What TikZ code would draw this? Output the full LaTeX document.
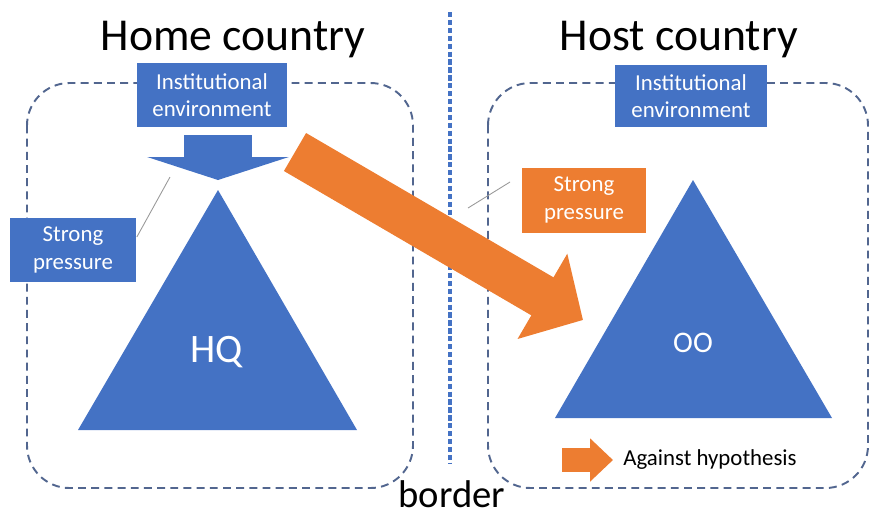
\documentclass[tikz,border=0pt]{standalone}
\usepackage{fontspec}
\setmainfont{Carlito}
\usetikzlibrary{arrows.meta,positioning}
\definecolor{boxblue}{HTML}{4472C4}
\definecolor{boxorange}{HTML}{ED7D31}
\definecolor{linegray}{HTML}{52668F}

\begin{document}
\begin{tikzpicture}[x=0.02cm,y=-0.02cm,
		title/.style={font=\fontsize{26}{30}\selectfont},
		envbox/.style={fill=boxblue,text=white,align=center,inner sep=0pt,
			font=\fontsize{13}{15.5}\selectfont},
		country/.style={draw=linegray,line width=1.1pt,dash pattern=on 4.5pt off 3pt,rounded corners=0.85cm},
		thin/.style={draw=gray!80,line width=0.5pt}]
				\useasboundingbox (0,0) rectangle (872,515);

				% the two countries and the border
				\draw[country] (27,83) rectangle (413,488);
				\draw[country] (488,83) rectangle (868,488);
				\draw[boxblue,line width=2pt,dash pattern=on 3pt off 1.5pt] (450,12) -- (450,464);
				\node[title] (home) at (233,40) {Home country};
				\node[title] (host) at (679,40) {Host country};
				\node[font=\fontsize{22}{26}\selectfont] (border) at (452,494) {border};

				% triangles
				\coordinate (hqtop) at (218,190);
				\coordinate (hqleft) at (78,430);
				\coordinate (hqright) at (357,430);
				\coordinate (ootop) at (693,180);
				\coordinate (ooleft) at (555,418);
				\coordinate (ooright) at (832,418);
				\fill[boxblue] (hqtop) -- (hqleft) -- (hqright) -- cycle;
				\fill[boxblue] (ootop) -- (ooleft) -- (ooright) -- cycle;
				\node[text=white,font=\fontsize{23}{27}\selectfont] (hq) at (217,352) {HQ};
				\node[text=white,font=\fontsize{17}{20}\selectfont] (oo) at (693,343) {OO};

				% institutional environments
				\node[envbox,minimum width=3.02cm,minimum height=1.28cm] (henv) at (212,95) {Institutional\\environment};
				\node[envbox,minimum width=3.04cm,minimum height=1.24cm] (oenv) at (691,96) {Institutional\\environment};
				\draw[boxblue,line width=1.38cm,-{Triangle[length=0.46cm,width=2.82cm]}] ([yshift=1.1cm]hqtop) -- ([yshift=0.2cm]hqtop);

				% strong pressure
				\node[envbox,minimum width=2.54cm,minimum height=1.28cm] (hpress) at (73,250) {Strong\\pressure};
				\node[envbox,fill=boxorange,minimum width=2.5cm,minimum height=1.3cm] (opress) at (584,200) {Strong\\pressure};
				\coordinate (hline) at (170,177);
				\coordinate (oline) at (468,208);
				\coordinate (oline') at (510,182);
				\draw[thin] (hline) -- (hpress.east |- 0,237);
				\draw[thin] (oline) -- (oline');

				% against hypothesis
				\coordinate (otail) at (295,152);
				\coordinate (otip) at (583,320);
				\draw[boxorange,line width=0.88cm,-{Triangle[length=0.94cm,width=1.92cm]}] (otail) -- (otip);
				\coordinate (ltail) at (562,460);
				\coordinate (ltip) at (613,460);
				\draw[boxorange,line width=0.48cm,-{Triangle[length=0.46cm,width=0.84cm]}] (ltail) -- (ltip);
				\node[anchor=west,font=\fontsize{13}{15.5}\selectfont,right=0.2cm of ltip,inner sep=0pt] (legend) {Against hypothesis};
			\end{tikzpicture}
\end{document}
